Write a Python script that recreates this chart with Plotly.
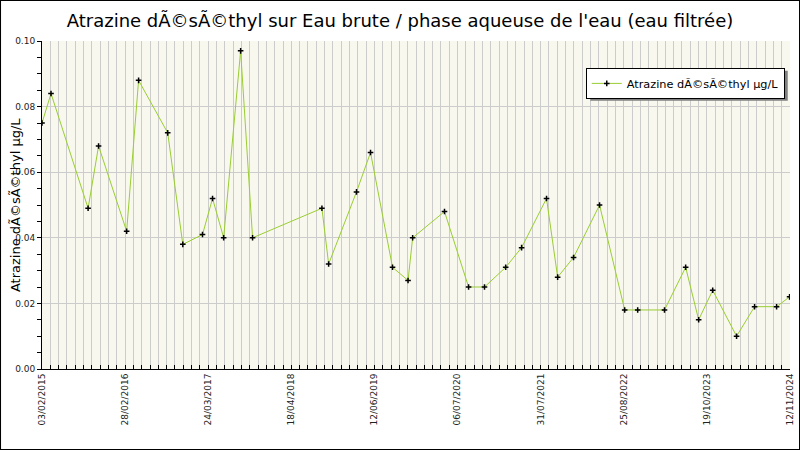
import pandas as pd
import plotly.graph_objects as go

# values
dates = ["2015-02-03", "2015-03-18", "2015-09-11", "2015-10-31", "2016-03-13",
         "2016-05-09", "2016-09-25", "2016-12-06", "2017-03-10", "2017-04-27",
         "2017-06-19", "2017-09-08", "2017-11-04", "2018-10-01", "2018-11-02",
         "2019-03-15", "2019-05-21", "2019-09-03", "2019-11-16", "2019-12-08",
         "2020-05-08", "2020-08-31", "2020-11-15", "2021-02-24", "2021-05-11",
         "2021-09-07", "2021-10-30", "2022-01-14", "2022-05-18", "2022-09-15",
         "2022-11-16", "2023-03-24", "2023-07-03", "2023-09-03", "2023-11-09",
         "2024-03-02", "2024-05-27", "2024-09-09", "2024-11-10"]
values = [0.075, 0.084, 0.049, 0.068, 0.042, 0.088, 0.072, 0.038, 0.041, 0.052,
          0.040, 0.097, 0.040, 0.049, 0.032, 0.054, 0.066, 0.031, 0.027, 0.040,
          0.048, 0.025, 0.025, 0.031, 0.037, 0.052, 0.028, 0.034, 0.050, 0.018,
          0.018, 0.018, 0.031, 0.015, 0.024, 0.010, 0.019, 0.019, 0.022]
tick_labels = ["03/02/2015", "28/02/2016", "24/03/2017", "18/04/2018", "12/06/2019",
               "06/07/2020", "31/07/2021", "25/08/2022", "19/10/2023", "12/11/2024"]

title = "Atrazine dÃ©sÃ©thyl sur Eau brute / phase aqueuse de l'eau (eau filtrée)"
series_name = "Atrazine dÃ©sÃ©thyl µg/L"

x_start, x_end = "2015-02-03", "2024-11-12"
tick_pos = pd.date_range(x_start, x_end, periods=len(tick_labels))
minor_step = (tick_pos[1] - tick_pos[0]) / 10

fig = go.Figure()
fig.add_trace(go.Scatter(
    x=dates, y=values, mode="lines+markers", name=series_name,
    line=dict(color="#9ACD32", width=1),
    marker=dict(symbol="cross-thin", size=4, color="black",
                line=dict(color="black", width=1.5)),
))

grid = "#CCCCCC"
fig.update_layout(
    width=800, height=450,
    margin=dict(l=42, r=10, t=41, b=81),
    paper_bgcolor="white",
    plot_bgcolor="#F8F8EF",
    font=dict(family="DejaVu Sans", size=9, color="#222"),
    title=dict(text=title, x=0.5, xanchor="center", y=0.953, yanchor="middle",
               automargin=False,
               font=dict(family="DejaVu Sans", size=18, color="black")),
    showlegend=True,
    legend=dict(x=0.993, xanchor="right", y=0.918, yanchor="top",
                bgcolor="white", bordercolor="black", borderwidth=1,
                font=dict(family="DejaVu Sans", size=11.3, color="black"),
                itemwidth=30),
    xaxis=dict(
        type="date", range=[x_start, x_end], automargin=False,
        tickmode="array", tickvals=tick_pos, ticktext=tick_labels,
        tickangle=-90, ticks="inside", ticklen=4, tickcolor="black",
        showgrid=True, gridcolor=grid, gridwidth=1,
        showline=True, linecolor="black", linewidth=1,
        zeroline=False,
        minor=dict(tick0=x_start, dtick=minor_step.total_seconds() * 1000,
                   ticks="inside", ticklen=4, tickcolor="black",
                   showgrid=True, gridcolor=grid, gridwidth=1),
    ),
    yaxis=dict(
        range=[0, 0.1], dtick=0.02, tickformat=".2f", automargin=False,
        ticks="outside", ticklen=4, tickcolor="black",
        showgrid=True, gridcolor=grid, gridwidth=1,
        showline=True, linecolor="black", linewidth=1,
        zeroline=False,
        minor=dict(dtick=0.005, ticks="outside", ticklen=4, tickcolor="black",
                   showgrid=False),
    ),
    annotations=[
        dict(text=series_name, xref="paper", yref="paper",
             x=-0.036, y=0.5, xanchor="center", yanchor="middle",
             textangle=-90, showarrow=False,
             font=dict(family="DejaVu Sans", size=13, color="black")),
    ],
    shapes=[
        # legend drop shadow
        dict(type="rect", xref="paper", yref="paper",
             x0=0.733, x1=0.997, y0=0.818, y1=0.909,
             fillcolor="#808080", line=dict(width=0), layer="above"),
        # outer frame
        dict(type="rect", xref="paper", yref="paper",
             x0=-0.0561, x1=1.0134, y0=-0.247, y1=1.125,
             line=dict(color="black", width=2)),
    ],
)

# page body has a default 8px margin; drop it so the chart sits at the corner
fig.write_html("out.html", config={"displayModeBar": False},
               post_script="document.body.style.margin='0px';")
